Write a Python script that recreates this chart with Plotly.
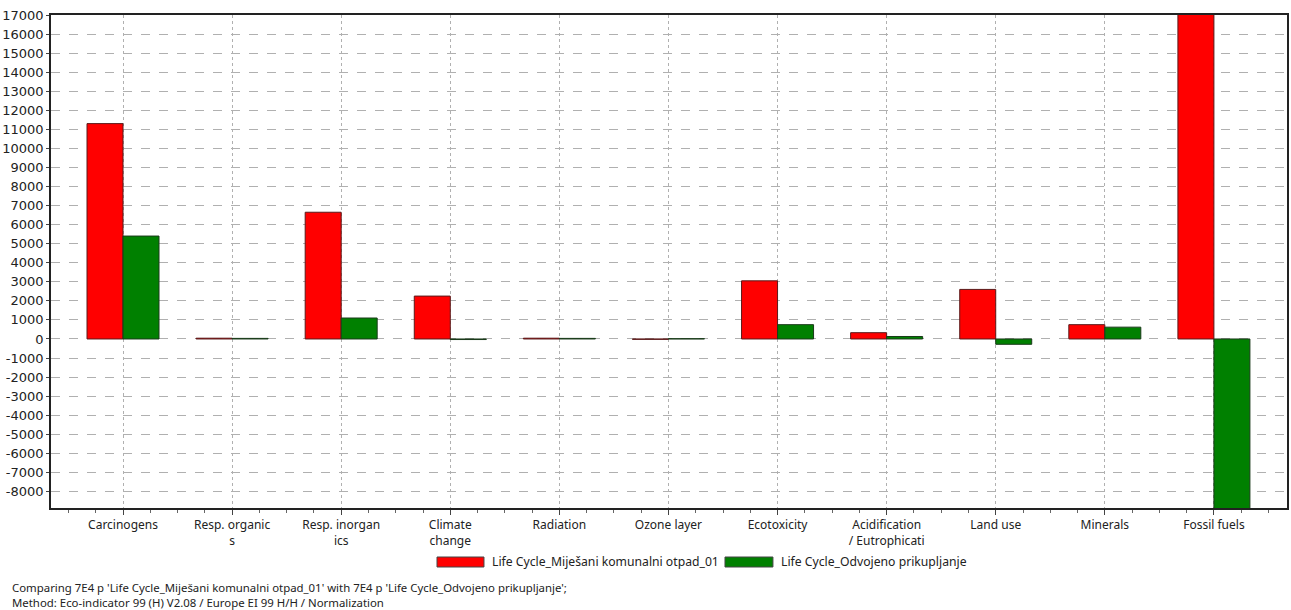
import plotly.graph_objects as go

categories = ["Carcinogens", "Resp. organic<br>s", "Resp. inorgan<br>ics", "Climate<br>change",
              "Radiation", "Ozone layer", "Ecotoxicity", "Acidification<br>/ Eutrophicati",
              "Land use", "Minerals", "Fossil fuels"]
mixed_values = [11300, 40, 6650, 2250, 40, -20, 3050, 330, 2600, 750, 18500]
separate_values = [5400, 30, 1100, -30, 30, 15, 750, 130, -280, 620, -9500]
series_names = ["Life Cycle_Miješani komunalni otpad_01", "Life Cycle_Odvojeno prikupljanje"]
series_colors = ["#FF0000", "#008000"]
y_ticks = list(range(-8000, 17001, 1000))
footnote_lines = [
    "Comparing 7E4 p 'Life Cycle_Miješani komunalni otpad_01' with 7E4 p 'Life Cycle_Odvojeno prikupljanje';",
    "Method: Eco-indicator 99 (H) V2.08 / Europe EI 99 H/H / Normalization",
]

FONT = "Noto Sans"
TXT = "#222222"
x_pos = list(range(len(categories)))

fig = go.Figure()
for name, vals, col, edge in zip(series_names, [mixed_values, separate_values], series_colors,
                                 ["#5a1a1a", "#1a3a1a"]):
    fig.add_trace(go.Bar(x=x_pos, y=vals, name=name, showlegend=False,
                         marker=dict(color=col, line=dict(color=edge, width=1))))

# custom legend (wide swatches like the reference)
legend_layout = [(0.3123, 0.3503, 0.3552), (0.5453, 0.5841, 0.5890)]
shapes = []
annotations = []
for (sx0, sx1, tx), name, col in zip(legend_layout, series_names, series_colors):
    shapes.append(dict(type="rect", xref="paper", yref="paper", x0=sx0, x1=sx1,
                       y0=-0.1197, y1=-0.0994, fillcolor=col,
                       line=dict(color="#444444", width=1)))
    annotations.append(dict(text=name, xref="paper", yref="paper", x=tx, y=-0.1095,
                            xanchor="left", yanchor="middle", showarrow=False,
                            font=dict(family=FONT, size=12.2, color=TXT)))
annotations.append(dict(text="<br>".join(footnote_lines), xref="paper", yref="paper",
                        x=-0.0332, y=-0.1755, xanchor="left", yanchor="middle",
                        showarrow=False, align="left",
                        font=dict(family=FONT, size=11.4, color=TXT)))

fig.update_layout(
    width=1291, height=610,
    margin=dict(l=51, r=4, t=15, b=102),
    paper_bgcolor="white", plot_bgcolor="white",
    barmode="group", bargap=0.34, bargroupgap=0,
    font=dict(family=FONT, size=12, color=TXT),
    showlegend=False,
    shapes=shapes,
    annotations=annotations,
)
fig.update_xaxes(
    automargin=False,
    range=[-0.66, 10.67], tickvals=x_pos, ticktext=categories,
    showgrid=True, gridcolor="#b0b0b0", griddash="dot", gridwidth=1,
    zeroline=False,
    showline=True, linecolor="#222222", linewidth=1.5, mirror=True,
    ticks="outside", ticklen=5, tickcolor="#444444",
    minor=dict(dtick=0.25, tick0=0, ticks="outside", ticklen=3, tickcolor="#666666", showgrid=False),
    tickfont=dict(family=FONT, size=12, color=TXT),
)
fig.update_yaxes(
    automargin=False,
    range=[-8870, 17000], tickvals=y_ticks, ticktext=[str(v) for v in y_ticks],
    showgrid=True, gridcolor="#b0b0b0", griddash="dash", gridwidth=1,
    zeroline=False,
    showline=True, linecolor="#222222", linewidth=1.5, mirror=True,
    ticks="outside", ticklen=3, tickcolor="#444444",
    tickfont=dict(family="DejaVu Sans", size=13, color=TXT),
)

fig.write_html("out.html", config={"displayModeBar": False},
               post_script="document.body.style.margin='0';document.body.style.overflow='hidden';")
